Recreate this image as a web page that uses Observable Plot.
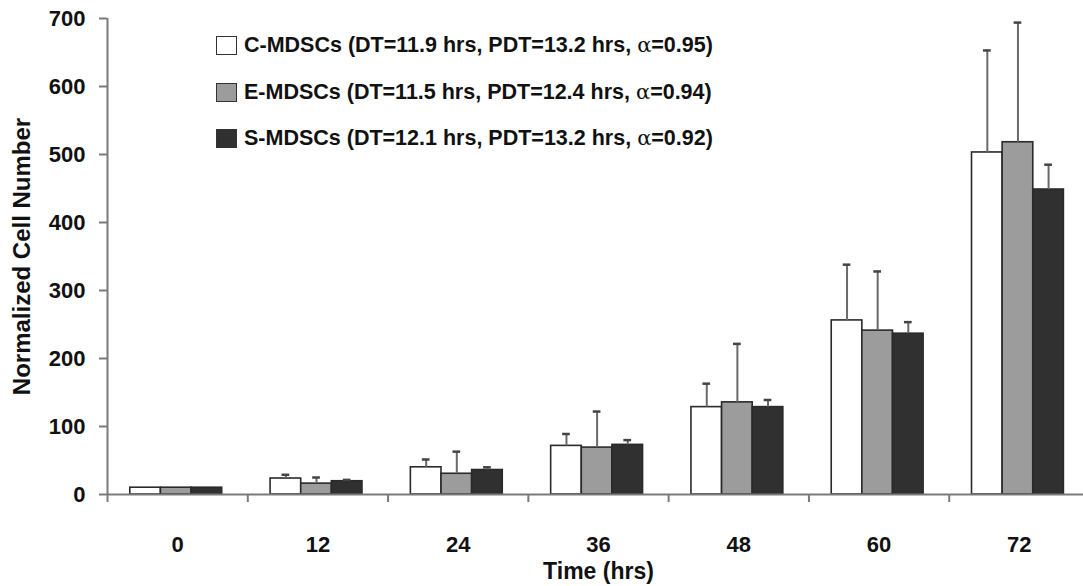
<!DOCTYPE html>
<html>
<head>
<meta charset="utf-8">
<script src="https://cdn.jsdelivr.net/npm/d3@7"></script>
<script src="https://cdn.jsdelivr.net/npm/@observablehq/plot@0.6"></script>
<style>
  html, body { margin: 0; padding: 0; background: #fff; overflow: hidden; }
  #wrap { position: relative; width: 1083px; height: 586px; }
  #legend { position: absolute; left: 216px; top: 36px; font-family: "Liberation Sans", Arial, sans-serif; font-weight: bold; font-size: 21.5px; color: #111; }
  .row { display: flex; align-items: center; height: 19px; margin-bottom: 27.5px; white-space: nowrap; }
  .sw { width: 19px; height: 17px; border: 1.5px solid #333; margin-right: 7px; flex: none; }
  .alpha { font-family: "DejaVu Serif", serif; font-weight: normal; font-size: 21px; }
</style>
</head>
<body>
<div id="wrap"><div id="legend"></div></div>
<script>
// ---- data ----
const times = [0, 12, 24, 36, 48, 60, 72];
const seriesNames = ["C-MDSCs", "E-MDSCs", "S-MDSCs"];
const legendLabels = [
  "C-MDSCs (DT=11.9 hrs, PDT=13.2 hrs, |0.95)",
  "E-MDSCs (DT=11.5 hrs, PDT=12.4 hrs, |0.94)",
  "S-MDSCs (DT=12.1 hrs, PDT=13.2 hrs, |0.92)"
];
const cMean = [10, 23.5, 40, 71.5, 128.5, 256, 503];
const cErr  = [0, 5.5, 11.5, 17.5, 34.5, 82, 150];
const eMean = [10, 16, 30.5, 69, 135.5, 241, 518];
const eErr  = [0, 9, 32.5, 53, 86, 87, 176];
const sMean = [10, 19.5, 36, 73, 128.5, 236.5, 448.5];
const sErr  = [0, 2, 4, 7, 10.5, 17, 36.5];
const yTicks = [0, 100, 200, 300, 400, 500, 600, 700];

const fills = ["#ffffff", "#9c9c9c", "#303030"];
const means = [cMean, eMean, sMean];
const errs = [cErr, eErr, sErr];

// layout within each 12-hour slot (in hours)
const bw = 2.62;
const rows = [];
seriesNames.forEach((s, i) => {
  times.forEach((t, j) => {
    const c = t + (i - 1) * bw - 0.12;
    rows.push({series: s, idx: i, time: t, mean: means[i][j], err: errs[i][j], top: means[i][j] + errs[i][j],
               x1: c - bw / 2, x2: c + bw / 2, xc: c, cap1: c - 0.33, cap2: c + 0.33});
  });
});
const errRows = rows.filter(d => d.err > 0);
const bounds = times.map(t => t - 6).concat([78]);

const chart = Plot.plot({
  width: 1083,
  height: 586,
  marginTop: 18,
  marginBottom: 92,
  marginLeft: 107,
  marginRight: -6,
  style: {fontFamily: "'Liberation Sans', Arial, sans-serif", fontWeight: "bold", fontSize: "22px", color: "#111", overflow: "visible"},
  x: {domain: [-6, 78]},
  y: {domain: [0, 700]},
  color: {domain: seriesNames, range: fills},
  marks: [
    Plot.rectY(rows, {x1: "x1", x2: "x2", y1: 0, y2: "mean", fill: "series", stroke: "#2a2a2a", strokeWidth: 1.6}),
    Plot.ruleX(errRows, {x: "xc", y1: "mean", y2: "top", stroke: "#6a6a6a", strokeWidth: 2}),
    Plot.ruleY(errRows, {y: "top", x1: "cap1", x2: "cap2", stroke: "#444", strokeWidth: 2.5}),
    Plot.ruleY([0], {stroke: "#7a7a7a", strokeWidth: 2}),
    Plot.ruleX([-6], {y1: 0, y2: 700, stroke: "#7a7a7a", strokeWidth: 2}),
    Plot.axisY({ticks: yTicks, tickSize: 8, tickPadding: 14, tickFormat: d3.format("d"), stroke: "#7a7a7a", strokeWidth: 2, label: null}),
    Plot.axisY({ticks: [], fontSize: 24, label: "Normalized Cell Number", labelAnchor: "center", labelOffset: 95, labelArrow: "none"}),
    Plot.axisX({ticks: bounds, tickSize: 8, tickFormat: () => "", stroke: "#7a7a7a", strokeWidth: 2, label: null}),
    Plot.axisX({ticks: times, tickSize: 0, tickPadding: 42, tickFormat: d3.format("d"), label: null}),
    Plot.axisX({ticks: [], fontSize: 23, label: "Time (hrs)", labelAnchor: "center", labelOffset: 84, labelArrow: "none"})
  ]
});
document.getElementById("wrap").prepend(chart);

// legend (HTML overlay)
const legend = document.getElementById("legend");
legendLabels.forEach((lab, i) => {
  const row = document.createElement("div");
  row.className = "row";
  const sw = document.createElement("div");
  sw.className = "sw";
  sw.style.background = fills[i];
  row.appendChild(sw);
  const [a, b] = lab.split("|");
  const span = document.createElement("span");
  span.append(a);
  const al = document.createElement("span");
  al.className = "alpha";
  al.textContent = "α";
  span.append(al, "=" + b);
  row.appendChild(span);
  legend.appendChild(row);
});
</script>
</body>
</html>
